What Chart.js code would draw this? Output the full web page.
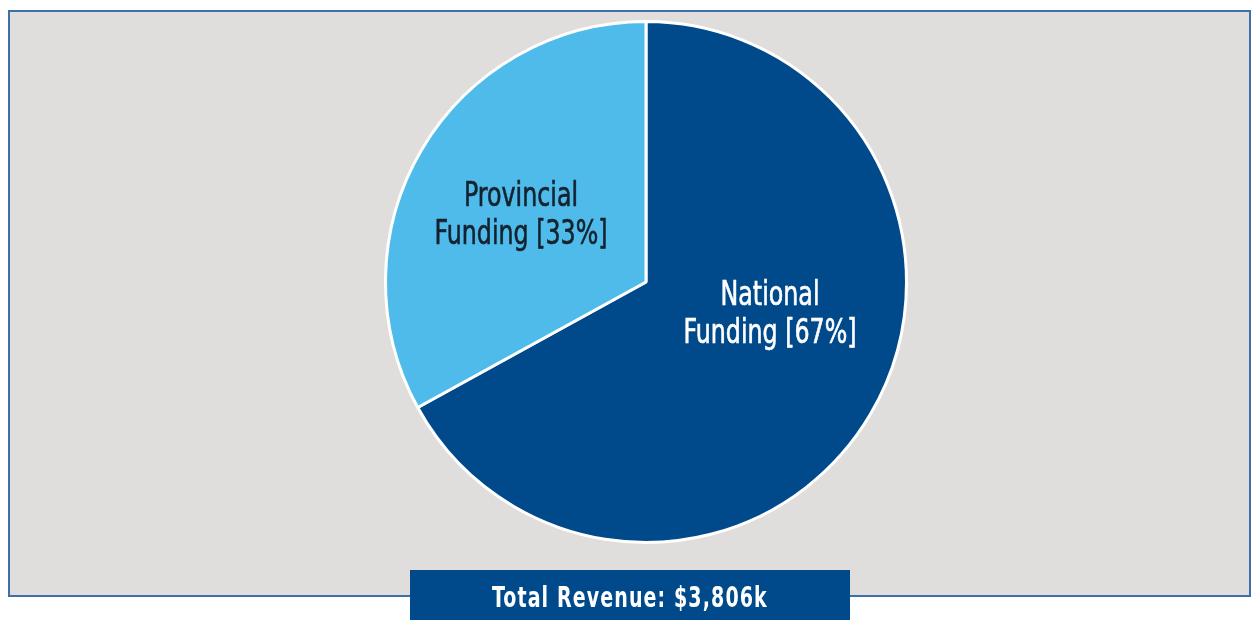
<!DOCTYPE html>
<html>
<head>
<meta charset="utf-8">
<script src="https://cdn.jsdelivr.net/npm/chart.js@4.4.1/dist/chart.umd.min.js"></script>
<style>
  html, body { margin: 0; padding: 0; background: #ffffff; }
  #frame {
    position: absolute; left: 8px; top: 10px; width: 1243px; height: 587px;
    box-sizing: border-box; border: 2px solid #3b70aa; background: #dfdedd;
  }
  #wrap { position: absolute; left: 0; top: 0; width: 1255px; height: 620px; }
  #total {
    position: absolute; left: 410px; top: 570px; width: 440px; height: 50px;
    background: #004a8c; color: #ffffff; text-align: center;
    font-family: "Liberation Sans Narrow", "DejaVu Sans Condensed", sans-serif;
    font-weight: bold; font-size: 29px; line-height: 54px; letter-spacing: 1.5px;
  }
  #total span { display: inline-block; transform: scaleX(0.73); transform-origin: center; white-space: nowrap; }
</style>
</head>
<body>
<div id="frame"></div>
<div id="wrap"><canvas id="pie" width="1255" height="620"></canvas></div>
<div id="total"><span id="totalText"></span></div>
<script>
// Revenue split by funding source (share of total, %)
const categories = ["National Funding", "Provincial Funding"];
const shares = [67, 33];
const sliceColors = ["#004a8c", "#4fbbea"];
const labelColors = ["#ffffff", "#142230"];
const totalRevenueK = 3806;

// label anchor offsets from the pie centre, in px
const labelOffsets = [[124, 33], [-125, -66]];

document.getElementById("totalText").textContent =
  "Total Revenue: $" + totalRevenueK.toLocaleString("en-US") + "k";

const sliceLabels = {
  id: "sliceLabels",
  afterDatasetsDraw(chart) {
    const ctx = chart.ctx;
    const meta = chart.getDatasetMeta(0);
    meta.data.forEach((arc, i) => {
      const words = categories[i].split(" ");
      const lines = [words[0], words.slice(1).join(" ") + " [" + shares[i] + "%]"];
      const cx = arc.x + labelOffsets[i][0];
      const cy = arc.y + labelOffsets[i][1];
      ctx.save();
      ctx.translate(cx, cy);
      ctx.scale(0.8, 1);
      ctx.fillStyle = labelColors[i];
      ctx.font = '33px "Liberation Sans Narrow", "DejaVu Sans Condensed", sans-serif';
      ctx.textAlign = "center";
      ctx.textBaseline = "middle";
      ctx.lineWidth = 0.6;
      ctx.strokeStyle = labelColors[i];
      lines.forEach((t, k) => {
        const y = k === 0 ? -19 : 19;
        ctx.fillText(t, 0, y);
        ctx.strokeText(t, 0, y);
      });
      ctx.restore();
    });
  }
};

new Chart(document.getElementById("pie"), {
  type: "pie",
  data: {
    labels: categories,
    datasets: [{
      data: shares,
      backgroundColor: sliceColors,
      borderColor: "#ffffff",
      borderWidth: 3
    }]
  },
  options: {
    responsive: false,
    animation: false,
    events: [],
    layout: { padding: { left: 384, right: 347, top: 20, bottom: 76 } },
    plugins: { legend: { display: false }, tooltip: { enabled: false } }
  },
  plugins: [sliceLabels]
});
</script>
</body>
</html>
